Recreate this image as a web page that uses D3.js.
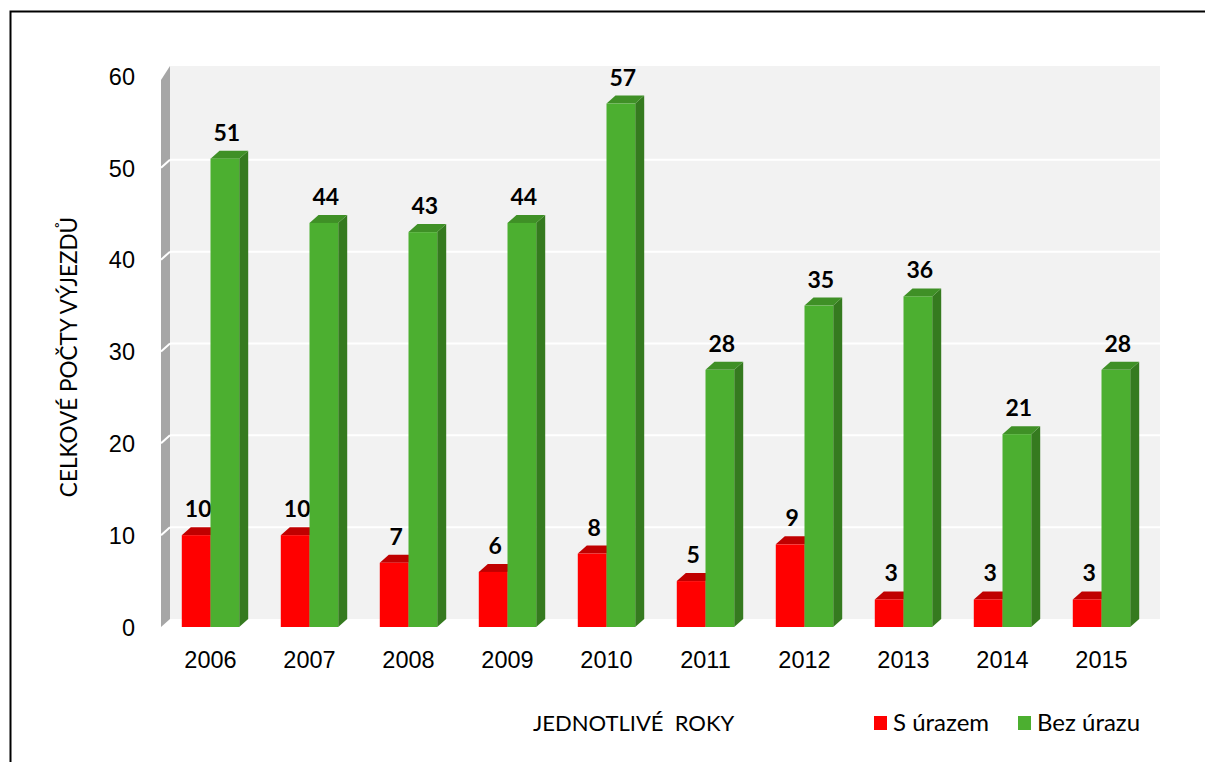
<!DOCTYPE html>
<html lang="cs">
    <head>
        <meta charset="utf-8">
        <title>Výjezdy</title>
        <script src="https://d3js.org/d3.v7.min.js"></script>
        <style type="text/css">
            body{
                margin: 0;
                background: #ffffff;
                overflow: hidden;
            }
            svg{
                display: block;
                font-family: Lato, "Open Sans", sans-serif;
            }
            .tick text{
                font-size: 23.5px;
                fill: #000;
            }
        </style>
    </head>
    <body>
        <svg></svg>
        <script type="text/javascript">

        const w = 1205;
        const h = 762;

        //DATA
        const years = ["2006", "2007", "2008", "2009", "2010", "2011", "2012", "2013", "2014", "2015"];
        const sUrazem = [10, 10, 7, 6, 8, 5, 9, 3, 3, 3];
        const bezUrazu = [51, 44, 43, 44, 57, 28, 35, 36, 21, 28];
        const seriesNames = ["S úrazem", "Bez úrazu"];
        const yTicks = [0, 10, 20, 30, 40, 50, 60];

        //3D DEPTH
        const dx = 9, dy = 8;

        //COLORS
        const front = ["#ff0000", "#4caf30"];
        const topC = ["#c00000", "#3f9026"];
        const sideC = ["#b00000", "#357a1f"];

        const svg = d3.select("svg").attr("width", w).attr("height", h);

        //SCALES
        const x0 = d3.scaleBand()
                     .domain(years)
                     .range([161, 1151])
                     .paddingInner(0.42)
                     .paddingOuter(0.21);

        const x1 = d3.scaleBand()
                     .domain(seriesNames)
                     .range([0, x0.bandwidth()]);

        const y = d3.scaleLinear()
                    .domain([0, 60])
                    .range([627, 76]);

        //FRAME (only top and left edges are inside the picture)
        svg.append("path")
           .attr("d", `M10.5,${h} L10.5,11.5 L${w},11.5`)
           .attr("fill", "none")
           .attr("stroke", "#000")
           .attr("stroke-width", 2);

        //BACK WALL
        const x0min = x0.range()[0], x0max = x0.range()[1];
        svg.append("rect")
           .attr("x", x0min + dx)
           .attr("y", y(60) - dy - 2)
           .attr("width", x0max - x0min)
           .attr("height", y(0) - y(60) + 2)
           .attr("fill", "#f2f2f2");

        //SIDE WALL
        svg.append("path")
           .attr("d", `M${x0min},${y(0)} L${x0min + dx},${y(0) - dy} L${x0min + dx},${y(60) - dy - 2} L${x0min},${y(60) - 2 + 6} Z`)
           .attr("fill", "#a6a6a6");

        //GRIDLINES
        const grid = svg.append("g");
        grid.selectAll(".gb")
            .data(yTicks.slice(1, 6))
            .join("line")
            .attr("x1", x0min + dx).attr("x2", x0max + dx)
            .attr("y1", d => y(d) - dy).attr("y2", d => y(d) - dy)
            .attr("stroke", "#fff").attr("stroke-width", 2);
        grid.selectAll(".gs")
            .data(yTicks.slice(1, 6))
            .join("line")
            .attr("class", "gs")
            .attr("x1", x0min).attr("x2", x0min + dx)
            .attr("y1", d => y(d)).attr("y2", d => y(d) - dy)
            .attr("stroke", "#fff").attr("stroke-width", 2);

        //BARS
        const rows = years.map((yr, i) => ({year: yr, vals: [sUrazem[i], bezUrazu[i]]}));

        const groups = svg.selectAll(".grp")
                          .data(rows)
                          .join("g")
                          .attr("class", "grp")
                          .attr("transform", d => `translate(${x0(d.year)},0)`);

        const bars = groups.selectAll(".bar")
                           .data(d => d.vals.map((v, k) => ({v: v, k: k})))
                           .join("g")
                           .attr("class", "bar");

        const bw = x1.bandwidth();
        const bx = d => x1(seriesNames[d.k]);

        bars.append("path")
            .attr("d", d => {
                const a = bx(d), b = a + bw, t = y(d.v), z = y(0);
                return `M${b},${t} L${b + dx},${t - dy} L${b + dx},${z - dy} L${b},${z} Z`;
            })
            .attr("fill", d => sideC[d.k]);

        bars.append("path")
            .attr("d", d => {
                const a = bx(d), b = a + bw, t = y(d.v);
                return `M${a},${t} L${a + dx},${t - dy} L${b + dx},${t - dy} L${b},${t} Z`;
            })
            .attr("fill", d => topC[d.k]);

        bars.append("rect")
            .attr("x", d => bx(d))
            .attr("y", d => y(d.v))
            .attr("width", bw)
            .attr("height", d => y(0) - y(d.v))
            .attr("fill", d => front[d.k]);

        //DATA LABELS
        bars.append("text")
            .attr("x", d => bx(d) + bw / 2 + 2)
            .attr("y", d => y(d.v) - dy - 10)
            .attr("text-anchor", "middle")
            .attr("font-size", 23)
            .attr("font-weight", 700)
            .attr("fill", "#000")
            .text(d => d.v);

        //AXES
        const yAxis = svg.append("g")
                         .attr("transform", "translate(135,0)")
                         .call(d3.axisLeft(y).tickValues(yTicks).tickSize(0).tickPadding(0));
        yAxis.select(".domain").remove();
        yAxis.selectAll("text").attr("dy", "0.35em");

        const xAxis = svg.append("g")
                         .attr("transform", `translate(0,${y(0) + 24})`)
                         .call(d3.axisBottom(x0).tickSize(0).tickPadding(0));
        xAxis.select(".domain").remove();

        //TITLES
        svg.append("text")
           .attr("transform", "translate(77,357) rotate(-90)")
           .attr("text-anchor", "middle")
           .attr("font-size", 22.5)
           .text("CELKOVÉ POČTY VÝJEZDŮ");

        svg.append("text")
           .attr("x", 533).attr("y", 731)
           .attr("font-size", 22)
           .attr("xml:space", "preserve")
           .style("white-space", "pre")
           .text("JEDNOTLIVÉ  ROKY");

        //LEGEND
        const legX = [874, 1018];
        const legend = svg.selectAll(".leg")
                          .data(seriesNames)
                          .join("g")
                          .attr("class", "leg")
                          .attr("transform", (d, i) => `translate(${legX[i]},716)`);
        legend.append("rect")
              .attr("width", 13).attr("height", 14)
              .attr("fill", (d, i) => front[i]);
        legend.append("text")
              .attr("x", 19).attr("y", 15)
              .attr("font-size", 24)
              .text(d => d);

        </script>
    </body>
</html>
